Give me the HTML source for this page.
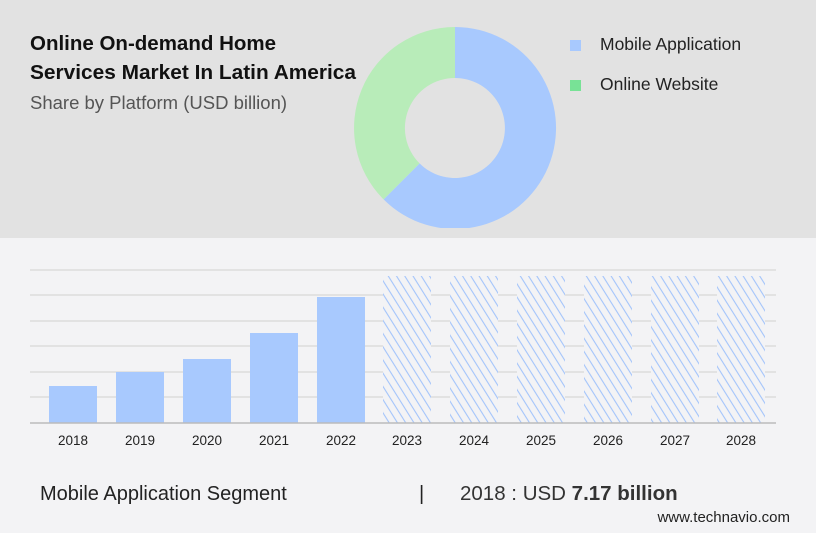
<!DOCTYPE html>
<html><head><meta charset="utf-8"><style>
body{margin:0;width:816px;height:528px;overflow:hidden;background:#f3f3f5;font-family:"Liberation Sans",sans-serif;}
</style></head><body>
<svg width="816" height="528" viewBox="0 0 816 528" xmlns="http://www.w3.org/2000/svg">
<defs>
<pattern id="h" patternUnits="userSpaceOnUse" width="7" height="10" patternTransform="rotate(-32)">
<rect width="7" height="10" fill="#f3f3f5"/>
<line x1="1" y1="0" x2="1" y2="10" stroke="#a3c4fb" stroke-width="1.1"/>
</pattern>
<clipPath id="c"><rect x="0" y="0" width="816" height="228"/></clipPath>
</defs>
<rect x="0" y="0" width="816" height="238" fill="#e2e2e2"/>
<rect x="0" y="238" width="816" height="290" fill="#f3f3f5"/>
<text x="30" y="50" font-size="20.5" font-weight="bold" fill="#111">Online On-demand Home</text>
<text x="30" y="79" font-size="20.5" font-weight="bold" fill="#111" textLength="326" lengthAdjust="spacingAndGlyphs">Services Market In Latin America</text>
<text x="30" y="109" font-size="18.5" fill="#555">Share by Platform (USD billion)</text>
<g clip-path="url(#c)">
<path d="M455,27 A101,101 0 1 1 383.6,199.4 L419.6,163.4 A50,50 0 1 0 455,78 Z" fill="#a8c9fe"/>
<path d="M383.6,199.4 A101,101 0 0 1 455,27 L455,78 A50,50 0 0 0 419.6,163.4 Z" fill="#b8ecb9"/>
</g>
<rect x="570" y="40" width="11" height="11" fill="#a8c9fe"/>
<text x="600" y="50" font-size="17.5" fill="#222">Mobile Application</text>
<rect x="570" y="80" width="11" height="11" fill="#78e296"/>
<text x="600" y="90" font-size="17.5" fill="#222">Online Website</text>
<g stroke="#d8d8d8" stroke-width="1.3">
<line x1="30" y1="270" x2="776" y2="270"/><line x1="30" y1="295" x2="776" y2="295"/>
<line x1="30" y1="321" x2="776" y2="321"/><line x1="30" y1="346" x2="776" y2="346"/>
<line x1="30" y1="372" x2="776" y2="372"/><line x1="30" y1="397" x2="776" y2="397"/>
</g>
<g fill="#a8c9fe">
<rect x="49" y="386" width="48" height="37"/>
<rect x="116" y="372" width="48" height="51"/>
<rect x="183" y="359" width="48" height="64"/>
<rect x="250" y="333" width="48" height="90"/>
<rect x="317" y="297" width="48" height="126"/>
</g>
<g fill="url(#h)">
<rect x="383" y="276" width="48" height="147"/>
<rect x="450" y="276" width="48" height="147"/>
<rect x="517" y="276" width="48" height="147"/>
<rect x="584" y="276" width="48" height="147"/>
<rect x="651" y="276" width="48" height="147"/>
<rect x="717" y="276" width="48" height="147"/>
</g>
<line x1="30" y1="423" x2="776" y2="423" stroke="#bbb" stroke-width="1.5"/>
<g font-size="13.5" fill="#222" text-anchor="middle">
<text x="73" y="445">2018</text><text x="140" y="445">2019</text><text x="207" y="445">2020</text>
<text x="274" y="445">2021</text><text x="341" y="445">2022</text><text x="407" y="445">2023</text>
<text x="474" y="445">2024</text><text x="541" y="445">2025</text><text x="608" y="445">2026</text>
<text x="675" y="445">2027</text><text x="741" y="445">2028</text>
</g>
<text x="40" y="500" font-size="20" fill="#222">Mobile Application Segment</text>
<text x="419" y="500" font-size="20" fill="#222">|</text>
<text x="460" y="500" font-size="20.5" fill="#333">2018 : USD <tspan font-weight="bold">7.17 billion</tspan></text>
<text x="790" y="522" font-size="15" fill="#222" text-anchor="end">www.technavio.com</text>
</svg>
</body></html>
